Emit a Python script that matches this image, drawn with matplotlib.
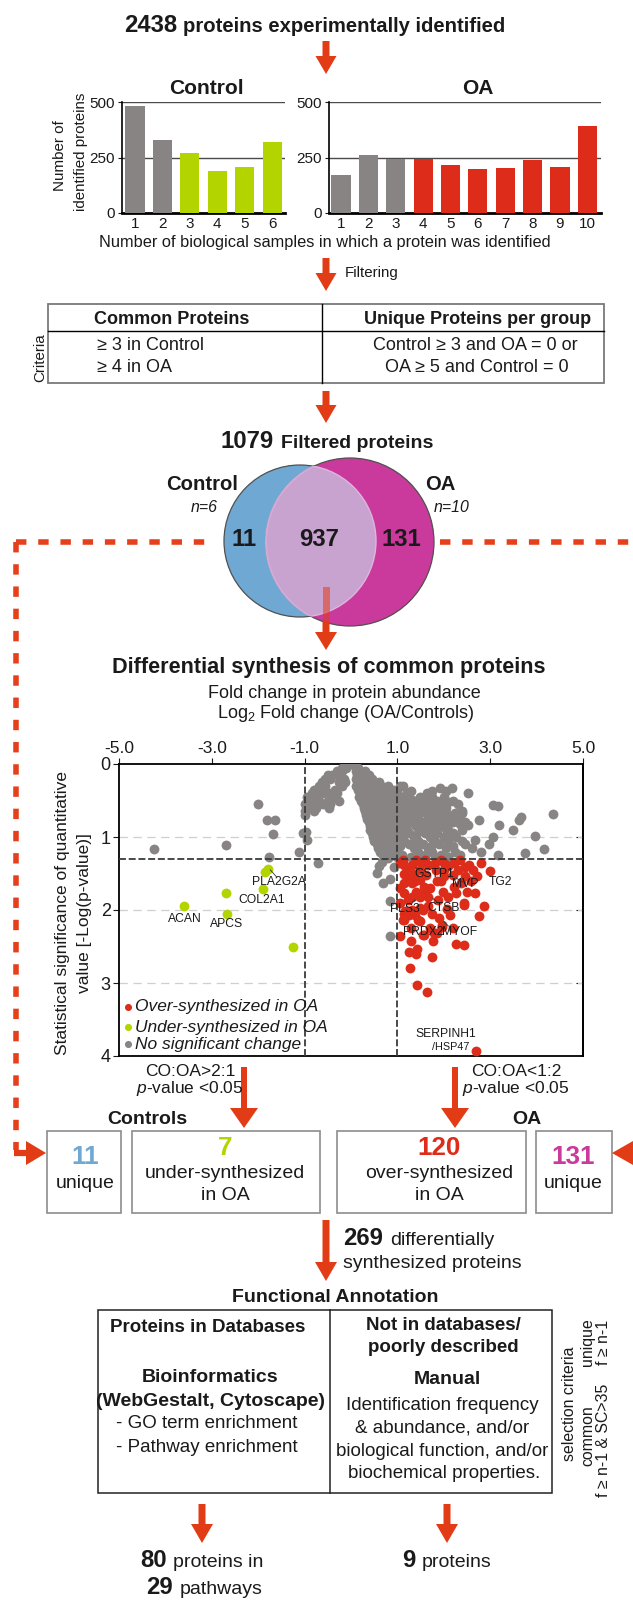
import matplotlib
matplotlib.use('Agg')
import matplotlib.pyplot as plt
from matplotlib import font_manager
from matplotlib.patches import Polygon, Circle, Rectangle

_names = {f.name for f in font_manager.fontManager.ttflist}
MAIN = 'Liberation Sans Narrow' if 'Liberation Sans Narrow' in _names else 'Liberation Sans'
plt.rcParams['font.family'] = [MAIN, 'Liberation Sans', 'DejaVu Sans']
plt.rcParams['mathtext.fontset'] = 'custom'
plt.rcParams['mathtext.rm'] = MAIN
plt.rcParams['mathtext.it'] = MAIN + ':italic'
plt.rcParams['lines.scale_dashes'] = False

# ---------------- data ----------------
control_samples = [1, 2, 3, 4, 5, 6]
control_counts = [482, 328, 272, 190, 209, 322]
oa_samples = [1, 2, 3, 4, 5, 6, 7, 8, 9, 10]
oa_counts = [169, 261, 245, 245, 218, 200, 204, 237, 209, 391]
bar_yticks = [0, 250, 500]

venn_labels = ['11', '937', '131']
box_counts = ['11', '7', '120', '131']

volcano_xticks = [-5, -3, -1, 1, 3, 5]
volcano_xticklabels = ['-5.0', '-3.0', '-1.0', '1.0', '3.0', '5.0']
volcano_yticks = [0, 1, 2, 3, 4]
fc_threshold = 1.0
p_threshold = 1.3

under_x = [-1.78, -1.85, -1.89, -2.69, -3.59, -2.67, -1.25]
under_y = [1.44, 1.48, 1.71, 1.77, 1.95, 2.06, 2.50]

over_x = [1.06, 1.30, 1.42, 1.40, 1.26, 1.74, 1.76, 2.27, 2.44, 1.27, 1.43, 1.63, 2.70, 1.56, 1.85,
          1.96, 1.89, 2.14, 2.07, 2.75, 2.86, 1.13, 1.24, 1.49, 1.38, 1.17, 1.56, 2.43,
          3.00, 2.80, 2.71, 2.67, 2.43, 2.27, 2.23, 2.45, 2.45, 2.23, 2.01, 1.84, 2.01, 2.10, 1.88,
          1.75, 1.66, 1.57, 1.49, 1.31, 1.14, 1.14, 1.31, 1.49, 1.14, 1.14, 1.31, 1.66, 1.49, 1.62,
          1.66, 1.49, 1.31, 1.14, 1.14, 1.44, 1.57, 1.79, 1.97, 1.22, 2.19, 2.36, 2.62,
          1.05, 1.20, 1.35, 1.50, 1.80, 2.00, 2.10, 1.25, 1.05, 1.05, 1.70, 1.85, 2.30, 2.55,
          1.12, 1.40, 1.60, 1.95, 2.35, 1.38, 1.95, 2.58, 1.40, 1.58, 1.98, 2.50, 1.30, 1.70, 2.20]
over_y = [2.36, 2.42, 2.53, 2.60, 2.58, 2.65, 2.43, 2.47, 2.48, 2.80, 3.03, 3.13, 3.93, 2.34, 2.32,
          2.21, 2.11, 2.07, 1.98, 2.08, 1.95, 2.14, 2.07, 2.15, 2.07, 2.02, 2.00, 1.93,
          1.47, 1.35, 1.54, 1.77, 1.91, 1.77, 1.68, 1.54, 1.41, 1.36, 1.36, 1.45, 1.54, 1.82, 1.86,
          2.05, 1.82, 1.68, 1.59, 1.63, 1.63, 1.77, 1.82, 1.82, 1.50, 1.38, 1.38, 1.38, 1.45, 1.52,
          1.95, 1.97, 2.00, 2.05, 2.14, 2.14, 2.34, 2.32, 2.23, 1.86, 1.52, 1.63, 1.45,
          1.35, 1.42, 1.50, 1.35, 1.35, 1.45, 1.40, 1.55, 1.70, 1.90, 1.70, 1.60, 1.45, 1.38,
          1.32, 1.32, 1.32, 1.32, 1.32, 1.60, 1.60, 1.60, 1.75, 1.75, 1.75, 1.75, 2.25, 2.25, 2.25]

nochange_x = [-0.05, 0.0, 0.05,
              -0.2, -0.1, 0.1, 0.15,
              -0.3, -0.2, 0.1, 0.2, 0.3,
              -0.4, -0.5, -0.28, 0.12, 0.25, 0.38,
              -0.55, -0.45, -0.15, 0.1, 0.2, 0.32, 0.45,
              -0.62, -0.25, -0.12, 0.15, 0.28, 0.4, 0.52, 0.6,
              -0.7, -0.55, -0.2, 0.1, 0.2, 0.35, 0.5, 0.65, 0.8, 1.05, 1.13, 1.91,
              -0.8, -0.65, -0.35, 0.15, 0.3, 0.45, 0.58, 0.72, 0.9, 2.17,
              -0.85, -0.6, -0.45, -0.3, 0.2, 0.35, 0.5, 0.62, 0.78, 0.95, 1.2, 1.49, 1.63, 2.53,
              -0.95, -0.75, -0.35, 0.18, 0.3, 0.45, 0.6, 0.75, 0.88, 1.0, 1.1, 1.31, 1.75, 2.0,
              -0.9, -0.7, -0.5, -0.25, 0.22, 0.35, 0.5, 0.65, 0.8, 0.95, 1.15, 1.4, 1.66, 1.85, 2.2,
              -2.0, -1.0, -0.85, -0.6, -0.45, 0.25, 0.4, 0.55, 0.7, 0.85, 1.0, 1.25, 1.5, 1.7, 1.95, 2.3, 3.06,
              -0.95, -0.75, -0.47, 0.28, 0.42, 0.58, 0.72, 0.88, 1.05, 1.2, 1.35, 1.6, 1.8, 2.05, 2.4, 3.17,
              -1.0, -0.8, 0.3, 0.48, 0.62, 0.78, 0.95, 1.1, 1.3, 1.55, 1.75, 2.4,
              -1.0, 0.33, 0.5, 0.65, 0.8, 0.95, 1.15, 1.4, 1.65, 1.84, 2.1, 3.67, 4.36,
              0.35, 0.52, 0.68, 0.85, 1.0, 1.2, 1.45, 1.7, 1.95, 2.3, 2.75, 3.61, -1.81, -1.64,
              0.38, 0.55, 0.7, 0.88, 1.05, 1.3, 1.55, 1.8, 2.0, 2.2, 2.45,
              0.4, 0.58, 0.75, 0.9, 1.1, 1.4, 1.65, 1.9, 2.01, 2.53, 3.19, -0.98,
              0.42, 0.6, 0.78, 0.95, 1.2, 1.5, 1.75, 2.1, 2.4, 3.49,
              -1.68, -1.03, 0.45, 0.62, 0.8, 1.0, 1.25, 1.6, 1.85, 2.2,
              0.48, 0.65, 0.82, 1.05, 1.35, 1.7, 2.0, 2.27, 3.06, 3.97,
              -0.95, 0.5, 0.7, 0.88, 1.15, 1.45, 1.8, 2.1, 2.4, 2.67,
              -2.69, 0.55, 0.72, 0.9, 1.25, 1.55, 1.9, 2.97, 2.45,
              0.58, 0.78, 0.95, 1.35, 1.65, 2.05, 2.6, 4.17,
              -1.13, -4.24, 0.62, 0.82, 1.0, 1.45, 1.75, 2.25, 2.8, 3.76,
              -1.76, 0.68, 0.88, 1.1, 1.6, 1.95, 2.35, 3.16,
              -0.72, 0.57, 0.70, 0.83, 0.83, 0.85, 0.66, 0.92, 0.79, 0.60,
              1.0, 1.3, 1.75, 2.05,
              1.08, 1.35, 1.58, 1.82, 2.1,
              1.02, 1.22, 1.48, 1.68, 1.95, 2.25,
              0.98, 1.2, 1.45, 1.72, 2.1, 2.35,
              0.9, 1.12, 1.4, 1.7, 2.05,
              0.82, 1.05, 1.4, 1.72, 2.2,
              0.8, 1.0, 1.3, 1.5, 1.8, 2.1]
nochange_y = [0.0, 0.0, 0.0,
              0.05, 0.05, 0.05, 0.05,
              0.1, 0.1, 0.1, 0.1, 0.1,
              0.15, 0.15, 0.15, 0.15, 0.15, 0.15,
              0.2, 0.2, 0.2, 0.2, 0.2, 0.2, 0.2,
              0.25, 0.25, 0.25, 0.25, 0.25, 0.25, 0.25, 0.25,
              0.3, 0.3, 0.3, 0.3, 0.3, 0.3, 0.3, 0.3, 0.3, 0.3, 0.3, 0.33,
              0.35, 0.35, 0.35, 0.35, 0.35, 0.35, 0.35, 0.35, 0.35, 0.33,
              0.4, 0.4, 0.4, 0.4, 0.4, 0.4, 0.4, 0.4, 0.4, 0.4, 0.4, 0.45, 0.4, 0.4,
              0.45, 0.45, 0.45, 0.45, 0.45, 0.45, 0.45, 0.45, 0.45, 0.45, 0.45, 0.49, 0.45, 0.45,
              0.5, 0.5, 0.5, 0.5, 0.5, 0.5, 0.5, 0.5, 0.5, 0.5, 0.5, 0.5, 0.5, 0.5, 0.5,
              0.55, 0.55, 0.55, 0.55, 0.55, 0.55, 0.55, 0.55, 0.55, 0.55, 0.55, 0.55, 0.55, 0.55, 0.55, 0.55, 0.56,
              0.6, 0.6, 0.6, 0.6, 0.6, 0.6, 0.6, 0.6, 0.6, 0.6, 0.6, 0.6, 0.6, 0.6, 0.67, 0.58,
              0.65, 0.65, 0.65, 0.65, 0.65, 0.65, 0.65, 0.65, 0.65, 0.65, 0.65, 0.65,
              0.7, 0.7, 0.7, 0.7, 0.7, 0.7, 0.7, 0.7, 0.7, 0.72, 0.7, 0.72, 0.68,
              0.75, 0.75, 0.75, 0.75, 0.75, 0.75, 0.75, 0.75, 0.75, 0.75, 0.77, 0.77, 0.77, 0.77,
              0.8, 0.8, 0.8, 0.8, 0.8, 0.8, 0.8, 0.8, 0.8, 0.8, 0.8,
              0.85, 0.85, 0.85, 0.85, 0.85, 0.85, 0.85, 0.85, 0.86, 0.84, 0.84, 0.93,
              0.9, 0.9, 0.9, 0.9, 0.9, 0.9, 0.9, 0.9, 0.9, 0.9,
              0.96, 0.95, 0.95, 0.95, 0.95, 0.95, 0.95, 0.95, 0.95, 0.95,
              1.0, 1.0, 1.0, 1.0, 1.0, 1.0, 1.0, 1.0, 1.0, 0.98,
              1.04, 1.05, 1.05, 1.05, 1.05, 1.05, 1.05, 1.05, 1.05, 1.04,
              1.11, 1.1, 1.1, 1.1, 1.1, 1.1, 1.1, 1.09, 1.1,
              1.15, 1.15, 1.15, 1.15, 1.15, 1.15, 1.15, 1.16,
              1.2, 1.17, 1.2, 1.2, 1.2, 1.2, 1.2, 1.2, 1.2, 1.22,
              1.28, 1.25, 1.25, 1.25, 1.25, 1.25, 1.25, 1.25,
              1.36, 1.49, 1.63, 1.57, 1.87, 2.35, 1.34, 1.41, 1.29, 1.40,
              0.375, 0.375, 0.375, 0.375,
              0.525, 0.525, 0.525, 0.525, 0.525,
              0.675, 0.675, 0.675, 0.675, 0.675, 0.675,
              0.825, 0.825, 0.825, 0.825, 0.825, 0.825,
              0.975, 0.975, 0.975, 0.975, 0.975,
              1.125, 1.125, 1.125, 1.125, 1.125,
              1.275, 1.275, 1.275, 1.275, 1.275, 1.275]

gene_labels = ['PLA2G2A', 'COL2A1', 'ACAN', 'APCS', 'GSTP1', 'MVP', 'TG2', 'PLS3', 'CTSB',
               'PRDX2', 'MYOF', 'SERPINH1']
gene_label_x = [-1.55, -1.92, -3.58, -2.69, 1.79, 2.46, 3.23, 1.16, 2.00, 1.55, 2.33, 2.05]
gene_label_y = [1.62, 1.86, 2.12, 2.19, 1.51, 1.64, 1.62, 1.99, 1.97, 2.30, 2.30, 3.70]

# ---------------- styles ----------------
GRAY = '#878483'
GREEN = '#b4d400'
RED = '#de2c1a'
ARROW = '#e23c16'
BLUE = '#6fa8d2'
MAGENTA = '#c93a9c'
LENS = '#c9a3cf'
TXT = '#1a1a1a'
K = 1.04  # text size factor

W, H = 633, 1600
fig = plt.figure(figsize=(W / 100, H / 100), dpi=100)
base = fig.add_axes([0, 0, 1, 1])
base.set_xlim(0, W)
base.set_ylim(H, 0)
base.axis('off')


def add_ax(l, t, r, b):
    return fig.add_axes([l / W, 1 - b / H, (r - l) / W, (b - t) / H])


def T(x, y, s, size, weight='normal', style='normal', ha='center', va='center',
      color=TXT, rot=0):
    base.text(x, y, s, fontsize=size * K, fontweight=weight, fontstyle=style, ha=ha, va=va,
              color=color, rotation=rot, zorder=10)


def down_arrow(x, ytop, yhead, ytip, sw, hw, alpha=1.0):
    pts = [(x - sw / 2, ytop), (x + sw / 2, ytop), (x + sw / 2, yhead), (x + hw / 2, yhead),
           (x, ytip), (x - hw / 2, yhead), (x - sw / 2, yhead)]
    base.add_patch(Polygon(pts, closed=True, color=ARROW, lw=0, alpha=alpha, zorder=8))


def rect(l, t, r, b, ec='#8c8c8c', lw=1.2):
    base.add_patch(Rectangle((l, t), r - l, b - t, fill=False, ec=ec, lw=lw, zorder=5))


# ---------------- top title ----------------
T(124, 31.5, '2438', 16.5, 'bold', ha='left', va='baseline')
T(183, 31.5, 'proteins experimentally identified', 14, 'bold', ha='left', va='baseline')
down_arrow(326, 41, 56, 74, 7, 21)

# ---------------- bar charts ----------------
T(206, 89, 'Control', 14.5, 'bold')
T(478, 89, 'OA', 14.5, 'bold')

control_colors = [GRAY, GRAY, GREEN, GREEN, GREEN, GREEN]
oa_colors = [GRAY, GRAY, GRAY, RED, RED, RED, RED, RED, RED, RED]

for (l, r, xs, ys, cols, xl) in [(122, 285, control_samples, control_counts, control_colors, (0.525, 6.47)),
                                 (329, 601, oa_samples, oa_counts, oa_colors, (0.56, 10.5))]:
    ax = add_ax(l, 102, r, 213)
    ax.bar(xs, ys, width=0.7, color=cols, zorder=3)
    ax.set_ylim(0, 500)
    ax.set_xlim(*xl)
    for v in bar_yticks[1:]:
        ax.axhline(v, color='#4a4a4a', lw=1.0, zorder=1)
    ax.set_yticks(bar_yticks)
    ax.set_xticks(xs)
    ax.tick_params(axis='x', length=0, labelsize=11, pad=3, colors=TXT)
    ax.tick_params(axis='y', length=3, labelsize=11, pad=2, colors=TXT)
    for sp in ['top', 'right']:
        ax.spines[sp].set_visible(False)
    ax.spines['left'].set_linewidth(1.2)
    ax.spines['bottom'].set_linewidth(2.0)
    ax.patch.set_alpha(0)

T(60, 156, 'Number of', 10.5, rot=90)
T(81, 152, 'identified proteins', 10.5, rot=90)
T(325, 242, 'Number of biological samples in which a protein was identified', 11.3)

# ---------------- filtering ----------------
down_arrow(326, 258, 273, 291, 7, 21)
T(345, 273, 'Filtering', 10.5, ha='left')

rect(48, 304, 604, 383, ec='#7a7a7a', lw=1.3)
base.plot([48, 604], [331, 331], color='black', lw=1.0, zorder=6)
base.plot([322, 322], [304, 383], color='black', lw=1.0, zorder=6)
T(172, 319, 'Common Proteins', 12.5, 'bold')
T(478, 319, 'Unique Proteins per group', 12.5, 'bold')
T(97, 346, '≥ 3 in Control', 12.5, ha='left')
T(97, 368, '≥ 4 in OA', 12.5, ha='left')
T(475, 346, 'Control ≥ 3 and OA = 0 or', 12.5)
T(477, 368, 'OA ≥ 5 and Control = 0', 12.5)
T(40, 358, 'Criteria', 10.5, rot=90)

down_arrow(326, 391, 405, 423, 7, 21)

# ---------------- venn ----------------
T(220, 448, '1079', 16.5, 'bold', ha='left', va='baseline')
T(281, 448, 'Filtered proteins', 13.5, 'bold', ha='left', va='baseline')

cL = (300, 541)
rL = 76
cR = (350, 542)
rR = 84
base.add_patch(Circle(cL, rL, fc=BLUE, ec='#505050', lw=0.9, zorder=2))
base.add_patch(Circle(cR, rR, fc=MAGENTA, ec='#505050', lw=0.9, zorder=3))
clipR = Circle(cR, rR, transform=base.transData)
lens = Circle(cL, rL, fc=LENS, ec='#dcb6dc', lw=1.0, zorder=4)
base.add_patch(lens)
lens.set_clip_path(clipR)
clipL = Circle(cL, rL, transform=base.transData)
lens_edge = Circle(cR, rR, fill=False, ec='#d2acd4', lw=1.4, zorder=4)
base.add_patch(lens_edge)
lens_edge.set_clip_path(clipL)

T(202, 485, 'Control', 14, 'bold')
T(204, 508, 'n=6', 11, style='italic')
T(440, 485, 'OA', 14, 'bold')
T(452, 508, 'n=10', 11, style='italic')
T(244, 539, venn_labels[0], 16.5, 'bold')
T(319, 539, venn_labels[1], 16.5, 'bold')
T(401, 539, venn_labels[2], 16.5, 'bold')

# arrow from venn (semi-transparent inside the circle)
down_arrow(326, 587, 622, 622, 7, 7, alpha=0.55)
down_arrow(326, 621, 632, 650, 7, 22)

# red dashed connectors
dash = dict(color='#e5401b', lw=4.0, dashes=(7.5, 8.5), solid_capstyle='butt', zorder=7)
base.plot([16, 214], [542, 542], **dash)
base.plot([440, 633], [542, 542], **dash)
base.plot([16, 16], [542, 1150], **dash)
base.plot([14, 28], [1153, 1153], color=ARROW, lw=4.5, solid_capstyle='butt', zorder=7)
base.add_patch(Polygon([(26, 1141), (46, 1153), (26, 1165)], closed=True, color=ARROW, lw=0, zorder=8))
base.add_patch(Polygon([(633, 1141), (612, 1153), (633, 1165)], closed=True, color=ARROW, lw=0, zorder=8))

# ---------------- volcano ----------------
T(329, 667, 'Differential synthesis of common proteins', 15, 'bold')
T(344, 693, 'Fold change in protein abundance', 12.5)
T(346, 713, r'Log$_{\mathregular{2}}$ Fold change (OA/Controls)', 12.5)

vax = add_ax(119, 764, 583, 1056)
DOT = 50
vax.scatter(nochange_x, nochange_y, s=DOT, c=GRAY, lw=0, zorder=3)
vax.scatter(over_x, over_y, s=DOT, c=RED, lw=0, zorder=4)
vax.scatter(under_x, under_y, s=DOT, c=GREEN, lw=0, zorder=4)
vax.set_xlim(-5, 5)
vax.set_ylim(4, 0)
vax.xaxis.tick_top()
vax.set_xticks(volcano_xticks)
vax.set_xticklabels(volcano_xticklabels)
vax.set_yticks(volcano_yticks)
vax.tick_params(axis='x', direction='out', length=4, labelsize=12.5, pad=2, colors=TXT)
vax.tick_params(axis='y', direction='out', length=4, labelsize=13, pad=2, colors=TXT)
sec = vax.secondary_yaxis('right')
sec.set_yticks(volcano_yticks[1:-1])
sec.set_yticklabels([])
sec.tick_params(direction='in', length=5)
for v in volcano_yticks[1:-1]:
    vax.axhline(v, color='#cfcfcf', lw=0.9, dashes=(6, 4), zorder=1)
for v in (-fc_threshold, fc_threshold):
    vax.axvline(v, color='#3a3a3a', lw=1.3, dashes=(5, 2), zorder=5)
vax.axhline(p_threshold, color='#3a3a3a', lw=1.3, dashes=(5, 2), zorder=5)
for sp in vax.spines.values():
    sp.set_linewidth(1.3)
sec.spines['right'].set_linewidth(1.3)

for s, x, y in zip(gene_labels, gene_label_x, gene_label_y):
    vax.text(x, y, s, fontsize=8.7, ha='center', va='center', color=TXT, zorder=6)
vax.text(2.14, 3.88, '/HSP47', fontsize=7.8, ha='center', va='center', color=TXT, zorder=6)
leaders = [((-1.74, 1.45), (-1.60, 1.55)), ((2.26, 1.56), (2.42, 1.62)), ((1.76, 1.84), (1.88, 1.90)),
           ((1.38, 1.86), (1.31, 1.91)), ((2.00, 2.16), (2.10, 2.22)), ((1.40, 1.42), (1.47, 1.45))]
for (a, b) in leaders:
    vax.plot([a[0], b[0]], [a[1], b[1]], color='#333333', lw=0.6, zorder=6)

# legend
leg = [('Over-synthesized in OA', RED, 0.168), ('Under-synthesized in OA', GREEN, 0.099),
       ('No significant change', GRAY, 0.041)]
for s, c, ya in leg:
    vax.scatter([0.019], [ya], s=26, c=c, lw=0, transform=vax.transAxes, zorder=6, clip_on=False)
    vax.text(0.034, ya, s, fontsize=12.5, fontstyle='italic', ha='left', va='center',
             transform=vax.transAxes, color=TXT, zorder=6)

T(63, 913, 'Statistical significance of quantitative', 12, rot=90)
T(85, 913, 'value [-Log(p-value)]', 12, rot=90)

# ---------------- criteria and boxes ----------------
T(190, 1071, 'CO:OA>2:1', 12)
T(190, 1089, r'$\mathit{p}$-value <0.05', 12)
T(516, 1071, 'CO:OA<1:2', 12)
T(516, 1089, r'$\mathit{p}$-value <0.05', 12)
down_arrow(244, 1067, 1108, 1128, 6, 28)
down_arrow(455, 1067, 1108, 1128, 6, 28)

T(147, 1119, 'Controls', 13.5, 'bold')
T(527, 1119, 'OA', 13.5, 'bold')

rect(47, 1131, 121, 1213)
rect(132, 1131, 320, 1213)
rect(337, 1131, 526, 1213)
rect(536, 1131, 612, 1213)

T(85, 1157, box_counts[0], 18, 'bold', color=BLUE)
T(85, 1184, 'unique', 13.5)
T(225, 1148, box_counts[1], 18, 'bold', color=GREEN)
T(225, 1173, 'under-synthesized', 13.5)
T(225, 1195, 'in OA', 13.5)
T(439, 1148, box_counts[2], 18, 'bold', color=RED)
T(439, 1173, 'over-synthesized', 13.5)
T(439, 1195, 'in OA', 13.5)
T(573, 1157, box_counts[3], 18, 'bold', color=MAGENTA)
T(573, 1184, 'unique', 13.5)

# ---------------- functional annotation ----------------
down_arrow(326, 1220, 1262, 1281, 7, 22)
T(343, 1245, '269', 16.5, 'bold', ha='left', va='baseline')
T(390, 1245, 'differentially', 13.5, ha='left', va='baseline')
T(343, 1268, 'synthesized proteins', 13.5, ha='left', va='baseline')

T(335, 1297, 'Functional Annotation', 13.5, 'bold')
rect(98, 1310, 552, 1493, ec='#222222', lw=1.1)
base.plot([330, 330], [1310, 1493], color='#222222', lw=1.1, zorder=6)

T(208, 1328, 'Proteins in Databases', 13, 'bold')
T(210, 1377, 'Bioinformatics', 13.5, 'bold')
T(210, 1402, '(WebGestalt, Cytoscape)', 13.5, 'bold')
T(116, 1424, '- GO term enrichment', 13, ha='left')
T(116, 1447, '- Pathway enrichment', 13, ha='left')

T(443, 1325, 'Not in databases/', 13, 'bold')
T(443, 1347, 'poorly described', 13, 'bold')
T(447, 1380, 'Manual', 13.5, 'bold')
T(442, 1406, 'Identification frequency', 13)
T(442, 1428, '& abundance, and/or', 13)
T(442, 1451, 'biological function, and/or', 13)
T(444, 1473, 'biochemical properties.', 13)

T(569, 1404, 'selection criteria', 11, rot=90)
T(587, 1342, 'unique', 11, rot=90)
T(604, 1342, 'f ≥ n-1', 11, rot=90)
T(588, 1436, 'common', 11, rot=90)
T(604, 1440, 'f ≥ n-1 & SC>35', 11, rot=90)

down_arrow(202, 1504, 1524, 1543, 7, 22)
down_arrow(447, 1504, 1524, 1543, 7, 22)
T(140, 1567, '80', 16.5, 'bold', ha='left', va='baseline')
T(173, 1567, 'proteins in', 13.5, ha='left', va='baseline')
T(146, 1594, '29', 16.5, 'bold', ha='left', va='baseline')
T(180, 1594, 'pathways', 13.5, ha='left', va='baseline')
T(402, 1567, '9', 16.5, 'bold', ha='left', va='baseline')
T(422, 1567, 'proteins', 13.5, ha='left', va='baseline')

fig.savefig('out.png', dpi=100)
